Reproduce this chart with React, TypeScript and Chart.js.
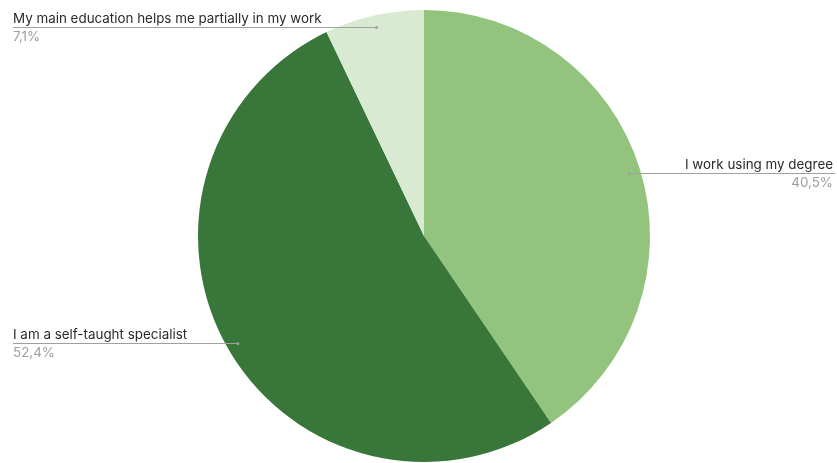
import React, { useEffect, useRef } from "react";
import { Chart, registerables } from "chart.js";

Chart.register(...registerables);

const categories = [
  "I work using my degree",
  "I am a self-taught specialist",
  "My main education helps me partially in my work",
];
const values = [40.5, 52.4, 7.1];
const colors = ["#93c47d", "#38763a", "#d9ead3"];

const fmt = (v: number) => v.toFixed(1).replace(".", ",") + "%";

const labelPlugin = {
  id: "leaderLabels",
  afterDraw(chart: any) {
    const ctx = chart.ctx;
    const meta = chart.getDatasetMeta(0);
    const W = chart.width;
    ctx.save();
    meta.data.forEach((arc: any, i: number) => {
      const p = arc.getProps(["x", "y", "startAngle", "endAngle", "outerRadius"], true);
      const mid = (p.startAngle + p.endAngle) / 2;
      const r = p.outerRadius * 0.95;
      const ax = p.x + Math.cos(mid) * r;
      const ay = Math.round(p.y + Math.sin(mid) * r) + 0.5;
      const right = Math.cos(mid) > 0;
      const endX = right ? W - 2 : 13;
      ctx.strokeStyle = "#a0a0a0";
      ctx.lineWidth = 1;
      ctx.beginPath();
      ctx.moveTo(ax, ay);
      ctx.lineTo(endX, ay);
      ctx.stroke();
      ctx.fillStyle = "#a0a0a0";
      ctx.beginPath();
      ctx.arc(ax, ay, 1.5, 0, Math.PI * 2);
      ctx.fill();
      ctx.textAlign = right ? "right" : "left";
      const tx = right ? W - 4 : 13;
      ctx.font = "13.4px Inter";
      ctx.fillStyle = "#2a2a2a";
      ctx.textBaseline = "alphabetic";
      ctx.fillText(categories[i], tx, ay - 4.5);
      ctx.fillStyle = "#9e9e9e";
      ctx.fillText(fmt(values[i]), tx, ay + 13.5);
    });
    ctx.restore();
  },
};

export default function App() {
  const ref = useRef<HTMLCanvasElement>(null);
  useEffect(() => {
    document.body.style.margin = "0";
    const chart = new Chart(ref.current!, {
      type: "pie",
      data: {
        labels: categories,
        datasets: [
          {
            data: values,
            backgroundColor: colors,
            borderWidth: 0,
          },
        ],
      },
      options: {
        responsive: false,
        animation: false,
        layout: { padding: { top: 10, bottom: 1, left: 11, right: 0 } },
        plugins: { legend: { display: false }, tooltip: { enabled: false } },
      },
      plugins: [labelPlugin],
    });
    return () => chart.destroy();
  }, []);
  return (
    <div style={{ width: 837, height: 463, background: "#fff" }}>
      <canvas ref={ref} width={837} height={463} />
    </div>
  );
}
